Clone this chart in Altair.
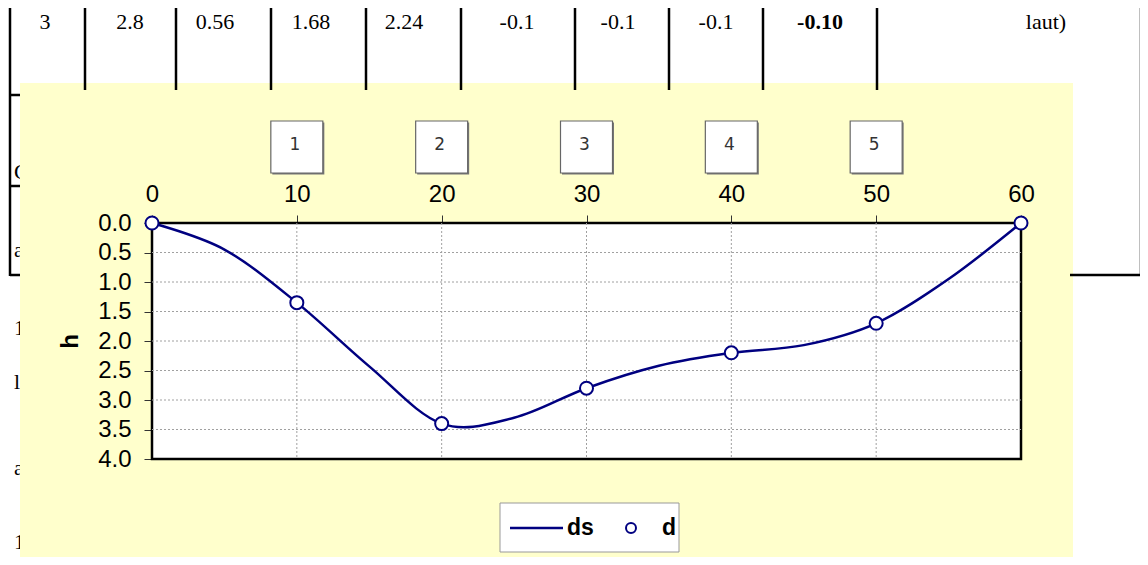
import altair as alt
import pandas as pd

# ---------------- data ----------------
# measured points "d"
distance = [0, 10, 20, 30, 40, 50, 60]
depth_h = [0.0, 1.35, 3.4, 2.8, 2.2, 1.7, 0.0]
# smoothed profile "ds" (every 5 m)
ds_distance = [0, 5, 10, 15, 20, 25, 30, 35, 40, 45, 50, 55, 60]
ds_h = [0.0, 0.45, 1.35, 2.43, 3.4, 3.3, 2.8, 2.42, 2.2, 2.07, 1.7, 0.95, 0.0]

x_ticks = [0, 10, 20, 30, 40, 50, 60]
y_ticks = [0.0, 0.5, 1.0, 1.5, 2.0, 2.5, 3.0, 3.5, 4.0]

station_labels = ["1", "2", "3", "4", "5"]
station_x = [10, 20, 30, 40, 50]

legend_labels = ["ds", "d"]

# background document table (text fragments visible behind the chart)
table_row_text = ["3", "2.8", "0.56", "1.68", "2.24", "-0.1", "-0.1", "-0.1", "laut)"]
table_row_bold = ["-0.10"]
left_fragments = ["C", "a", "1", "l", "a", "1"]

# ---------------- layout (page pixels, decoration only) ----------------
OX, OY = 152, 223          # page position of the plot origin
W, H = 869, 236            # plot area
PAD = dict(left=OX - 8, top=OY - 8, right=1132 - (OX - 8) - W, bottom=549 - (OY - 8) - H)

row_text_x = [45, 130, 215, 311, 404, 517, 618, 716, 1046]
row_bold_x = [820]
row_y = 22
frag_x = 14
frag_y = [172, 250, 328, 382, 468, 542]

# table rules: (x1, y1, x2, y2)
table_rules = [
    (10, 0, 10, 276), (85, 0, 85, 90), (176, 0, 176, 90), (271, 0, 271, 90),
    (366, 0, 366, 90), (461, 0, 461, 90), (575, 0, 575, 90), (669, 0, 669, 90),
    (763, 0, 763, 90), (877, 0, 877, 90), (1141, 0, 1141, 276),
    (10, 95, 22, 95), (10, 186, 22, 186), (10, 275, 22, 275), (1070, 275, 1142, 275),
]

NAVY = "#000080"
YELLOW = "#FFFFCC"
SANS = "Liberation Sans"
SERIF = "Liberation Serif"

# ---------------- tables ----------------
main_df = pd.DataFrame({"dist": distance, "h": depth_h})
ds_df = pd.DataFrame({"dist": ds_distance, "h": ds_h})
rules_df = pd.DataFrame(
    [{"px": a - OX, "py": b - OY, "px2": c - OX, "py2": d - OY} for a, b, c, d in table_rules]
)
row_df = pd.DataFrame({"t": table_row_text, "px": [v - OX for v in row_text_x],
                       "py": [row_y - OY] * len(table_row_text)})
bold_df = pd.DataFrame({"t": table_row_bold, "px": [v - OX for v in row_bold_x],
                        "py": [row_y - OY] * len(table_row_bold)})
frag_df = pd.DataFrame({"t": left_fragments, "px": [frag_x - OX] * len(left_fragments),
                        "py": [v - OY for v in frag_y]})
station_df = pd.DataFrame({"dist": station_x, "lab": station_labels})
xgrid_df = pd.DataFrame({"g": x_ticks[1:-1]})
ygrid_df = pd.DataFrame({"g": y_ticks[1:-1]})
one = pd.DataFrame({"k": [0]})

xs = alt.Scale(domain=[0, 60], nice=False, zero=False)
ys = alt.Scale(domain=[0, 4], reverse=True, nice=False)

x_axis = alt.Axis(orient="top", values=x_ticks, format="d", title=None, grid=False,
                  domain=False, labelFont=SANS, labelFontSize=24, labelColor="black",
                  tickColor="#333", tickSize=8, tickWidth=1, labelPadding=9,
                  labelFlush=False, labelOverlap=False)
y_axis = alt.Axis(values=y_ticks, format=".1f", title="h", grid=False, domain=False,
                  labelFont=SANS, labelFontSize=24, labelColor="black",
                  tickColor="#333", tickSize=8, tickWidth=1, labelPadding=13,
                  labelFlush=False, labelOverlap=False,
                  titleFont=SANS, titleFontSize=24, titleFontWeight="bold",
                  titleColor="black", titleAngle=270, titleX=-82, titleY=H / 2,
                  titleAlign="center", titleBaseline="middle")

def X(field):
    return alt.X(field, type="quantitative", scale=xs, axis=x_axis)

def Y(field):
    return alt.Y(field, type="quantitative", scale=ys, axis=y_axis)

PX = alt.X("px:Q", scale=None, axis=None)
PY = alt.Y("py:Q", scale=None, axis=None)

def page_rect(x1, x2, y1, y2, fill):
    return alt.Chart(one).mark_rect(fill=fill, strokeWidth=0).encode(
        x=alt.value(x1 - OX), x2=alt.value(x2 - OX),
        y=alt.value(y1 - OY), y2=alt.value(y2 - OY))

# ---------------- layers ----------------
# white page around the yellow chart area
white_top = page_rect(0, 1148, 0, 83, "white")
white_left = page_rect(0, 20, 83, 600, "white")
white_right = page_rect(1073, 1148, 83, 600, "white")

table_lines = alt.Chart(rules_df).mark_rule(color="black", strokeWidth=2.5).encode(
    x=PX, y=PY, x2="px2:Q", y2="py2:Q")
table_text = alt.Chart(row_df).mark_text(font=SERIF, fontSize=22, color="black",
                                         align="center", baseline="middle").encode(
    x=PX, y=PY, text="t:N")
table_bold = alt.Chart(bold_df).mark_text(font=SERIF, fontSize=22, fontWeight="bold",
                                          color="black", align="center",
                                          baseline="middle").encode(x=PX, y=PY, text="t:N")
fragments = alt.Chart(frag_df).mark_text(font=SERIF, fontSize=22, color="black",
                                         align="left", baseline="middle").encode(
    x=PX, y=PY, text="t:N")
# the chart area hides the rest of the table
yellow_cover = page_rect(20, 55, 83, 600, YELLOW)

plot_bg = alt.Chart(one).mark_rect(fill="white", stroke="black", strokeWidth=2.5).encode(
    x=alt.value(0), x2=alt.value(W), y=alt.value(0), y2=alt.value(H))

xgrid = alt.Chart(xgrid_df).mark_rule(color="#a0a0a0", strokeWidth=1, strokeDash=[2, 2]).encode(
    x=X("g"), y=alt.value(0), y2=alt.value(H))
ygrid = alt.Chart(ygrid_df).mark_rule(color="#a0a0a0", strokeWidth=1, strokeDash=[2, 2]).encode(
    y=Y("g"), x=alt.value(0), x2=alt.value(W))

box_shadow = alt.Chart(station_df).mark_square(size=2704, fill="#777", opacity=1,
                                               xOffset=1.5, yOffset=1.5).encode(
    x=X("dist"), y=alt.value(-76))
boxes = alt.Chart(station_df).mark_square(size=2704, fill="white", stroke="#666",
                                          strokeWidth=1.2, opacity=1).encode(
    x=X("dist"), y=alt.value(-76))
box_text = alt.Chart(station_df).mark_text(font="DejaVu Sans", fontSize=17, color="#333",
                                           align="center", baseline="middle", dx=-2, dy=-2).encode(
    x=X("dist"), y=alt.value(-76), text="lab:N")

curve = alt.Chart(ds_df).mark_line(color=NAVY, strokeWidth=2.5, interpolate="cardinal",
                                   tension=0).encode(x=X("dist"), y=Y("h"))
points = alt.Chart(main_df).mark_point(shape="circle", fill="white", stroke=NAVY,
                                       strokeWidth=2, size=170, opacity=1,
                                       fillOpacity=1).encode(x=X("dist"), y=Y("h"))

# legend box
ly = 528 - OY
leg_box = page_rect(500, 679, 503, 552, "white").mark_rect(
    fill="white", stroke="#999", strokeWidth=1)
leg_line = alt.Chart(one).mark_rule(color=NAVY, strokeWidth=2.5).encode(
    x=alt.value(510 - OX), x2=alt.value(563 - OX), y=alt.value(ly))
leg_point = alt.Chart(one).mark_point(shape="circle", fill="white", stroke=NAVY,
                                      strokeWidth=2, size=100, opacity=1).encode(
    x=alt.value(631 - OX), y=alt.value(ly))
leg_t1 = alt.Chart(pd.DataFrame({"lab": [legend_labels[0]]})).mark_text(
    font=SANS, fontSize=23, fontWeight="bold", color="black", align="left",
    baseline="middle").encode(x=alt.value(567 - OX), y=alt.value(ly), text="lab:N")
leg_t2 = alt.Chart(pd.DataFrame({"lab": [legend_labels[1]]})).mark_text(
    font=SANS, fontSize=23, fontWeight="bold", color="black", align="left",
    baseline="middle").encode(x=alt.value(662 - OX), y=alt.value(ly), text="lab:N")

chart = alt.layer(
    white_top, white_left, white_right,
    table_lines, table_text, table_bold, fragments, yellow_cover, plot_bg,
    xgrid, ygrid, box_shadow, boxes, box_text, curve, points,
    leg_box, leg_line, leg_point, leg_t1, leg_t2,
).properties(
    width=W, height=H,
    autosize=alt.AutoSizeParams(type="none"),
    padding=PAD,
    background=YELLOW,
).configure_view(stroke=None, fill=None)

chart.save("out.html", embed_options={"renderer": "svg", "actions": False})
